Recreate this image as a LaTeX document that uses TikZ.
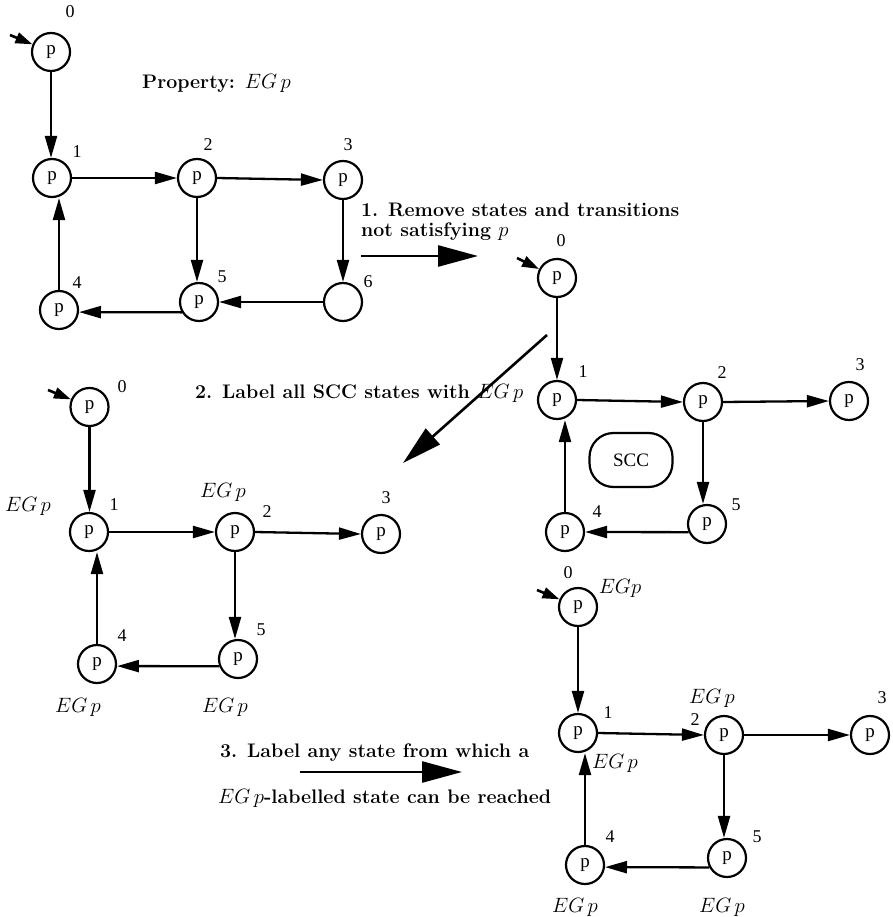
\documentclass[tikz,border=0pt]{standalone}
\usepackage{fontspec}
\newfontfamily\tms{Liberation Serif}
\usetikzlibrary{arrows.meta,shapes.geometric}
\tikzset{
  st/.style={circle, draw, line width=2.2pt, minimum size=38pt, inner sep=0pt, font=\tms\fontsize{19}{22}\selectfont},
  num/.style={font=\tms\fontsize{18}{21}\selectfont, inner sep=0pt},
  eg/.style={font=\fontsize{20}{24}\selectfont, inner sep=0pt},
  txt/.style={font=\fontsize{19.6}{24}\selectfont\bfseries, inner sep=0pt, anchor=west},
  tr/.style={line width=2.3pt, -{Triangle[length=22pt,width=12pt]}},
  big/.style={line width=2.6pt, -{Triangle[length=40pt,width=21pt]}},
  init/.style={line width=2.6pt, -{Triangle[length=17pt,width=11pt]}},
  scc/.style={draw, line width=2.2pt, rectangle, rounded corners=24pt, minimum width=83pt, minimum height=54pt, inner sep=0pt, font=\tms\fontsize{19}{22}\selectfont},
}
\begin{document}
\begin{tikzpicture}[x=1pt,y=-1pt]
\useasboundingbox (0,0) rectangle (892,917);
% ---------- Graph 1 ----------
\node[st] (a0) at (51,52) {p};
\node[st] (a1) at (52,178) {p};
\node[st] (a2) at (197,178) {p};
\node[st] (a3) at (343,180) {p};
\node[st] (a4) at (59,310) {p};
\node[st] (a5) at (199,302) {p};
\node[st] (a6) at (343,302) {};
\node[num] (la0) at (70,12) {0};
\node[num] (la1) at (77,152) {1};
\node[num] (la2) at (208,145) {2};
\node[num] (la3) at (348,145) {3};
\node[num] (la4) at (77,283) {4};
\node[num] (la5) at (222,277) {5};
\node[num] (la6) at (368,282) {6};
\coordinate (ai) at (10,35);
\draw[init] (ai) -- (a0);
\draw[tr] (a0.south) -- (a0.south |- a1.north);
\draw[tr] (a1.east) -- (a2.west);
\draw[tr] (a2.east) -- (a3.west);
\draw[tr] (a2.south) -- (a2.south |- a5.north);
\draw[tr] (a3.south) -- (a3.south |- a6.north);
\draw[tr] (a6.west) -- (a5.east);
\draw[tr] (a5.211) -- (a4.354);
\draw[tr] (a4.north) -- (a4.north |- a1.south);
\node[txt] (prop) at (142,83) {Property: \normalfont$EG\,p$};
% ---------- Step 1 ----------
\node[txt] (t1a) at (361,210) {1. Remove states and transitions};
\node[txt] (t1b) at (361,232) {not satisfying \normalfont$p$};
\coordinate (s1) at (361,256);
\coordinate (e1) at (478,256);
\draw[big] (s1) -- (e1);
% ---------- Graph 3 (SCC) ----------
\node[st] (c0) at (557,278) {p};
\node[st] (c1) at (557,400) {p};
\node[st] (c2) at (703,402) {p};
\node[st] (c3) at (849,401) {p};
\node[st] (c4) at (565,532) {p};
\node[st] (c5) at (707,524) {p};
\node[scc] (cs) at (631,460) {SCC};
\node[num] (lc0) at (561,241) {0};
\node[num] (lc1) at (583,372) {1};
\node[num] (lc2) at (722,373) {2};
\node[num] (lc3) at (860,365) {3};
\node[num] (lc4) at (597,512) {4};
\node[num] (lc5) at (736,505) {5};
\coordinate (ci) at (517,258);
\draw[init] (ci) -- (c0);
\draw[tr] (c0.south) -- (c0.south |- c1.north);
\draw[tr] (c1.east) -- (c2.west);
\draw[tr] (c2.east) -- (c3.west);
\draw[tr] (c2.south) -- (c2.south |- c5.north);
\draw[tr] (c5.204) -- (c4.east);
\draw[tr] (c4.north) -- (c4.north |- c1.south);
% ---------- Step 2 ----------
\node[txt] (t2) at (195,393) {2. Label all SCC states with \normalfont$EG\,p$};
\coordinate (s2) at (547,335);
\coordinate (e2) at (403,463);
\draw[big] (s2) -- (e2);
% ---------- Graph 2 ----------
\node[st] (b0) at (89.5,407) {p};
\node[st] (b1) at (89,532) {p};
\node[st] (b2) at (235,532) {p};
\node[st] (b3) at (381,534) {p};
\node[st] (b4) at (97,664) {p};
\node[st] (b5) at (238,659) {p};
\node[num] (lb0) at (122,387) {0};
\node[num] (lb1) at (114,505) {1};
\node[num] (lb2) at (267,512) {2};
\node[num] (lb3) at (386,498) {3};
\node[num] (lb4) at (122,636) {4};
\node[num] (lb5) at (261,630) {5};
\node[eg] (gb1) at (28,506) {$EG\,p$};
\node[eg] (gb2) at (223,492) {$EG\,p$};
\node[eg] (gb4) at (78,707) {$EG\,p$};
\node[eg] (gb5) at (225,707) {$EG\,p$};
\coordinate (bi) at (48,390);
\draw[init] (bi) -- (b0);
\draw[tr] (b0.south) -- (b0.south |- b1.north);
\draw[tr] (b1.east) -- (b2.west);
\draw[tr] (b2.east) -- (b3.west);
\draw[tr] (b2.south) -- (b2.south |- b5.north);
\draw[tr] (b5.201) -- (b4.354);
\draw[tr] (b4.north) -- (b4.north |- b1.south);
% ---------- Step 3 ----------
\node[txt] (t3a) at (220,753) {3. Label any state from which a};
\node[txt] (t3b) at (218,798) {\normalfont$EG\,p$\bfseries-labelled state can be reached};
\coordinate (s3) at (300,772);
\coordinate (e3) at (462,772);
\draw[big] (s3) -- (e3);
% ---------- Graph 4 ----------
\node[st] (d0) at (578,607) {p};
\node[st] (d1) at (578,733) {p};
\node[st] (d2) at (724,735) {p};
\node[st] (d3) at (870,735) {p};
\node[st] (d4) at (585,865) {p};
\node[st] (d5) at (727,858) {p};
\node[num] (ld0) at (568,573) {0};
\node[num] (ld1) at (608,713) {1};
\node[num] (ld2) at (695,720) {2};
\node[num] (ld3) at (882,698) {3};
\node[num] (ld4) at (610,837) {4};
\node[num] (ld5) at (757,837) {5};
\node[eg] (gd0) at (620,588) {$EGp$};
\node[eg] (gd1) at (615,763) {$EG\,p$};
\node[eg] (gd2) at (712,698) {$EG\,p$};
\node[eg] (gd4) at (575,907) {$EG\,p$};
\node[eg] (gd5) at (722,907) {$EG\,p$};
\coordinate (di) at (537,590);
\draw[init] (di) -- (d0);
\draw[tr] (d0.south) -- (d0.south |- d1.north);
\draw[tr] (d1.east) -- (d2.west);
\draw[tr] (d2.east) -- (d3.west);
\draw[tr] (d2.south) -- (d2.south |- d5.north);
\draw[tr] (d5.208) -- (d4.354);
\draw[tr] (d4.north) -- (d4.north |- d1.south);
\end{tikzpicture}
\end{document}
